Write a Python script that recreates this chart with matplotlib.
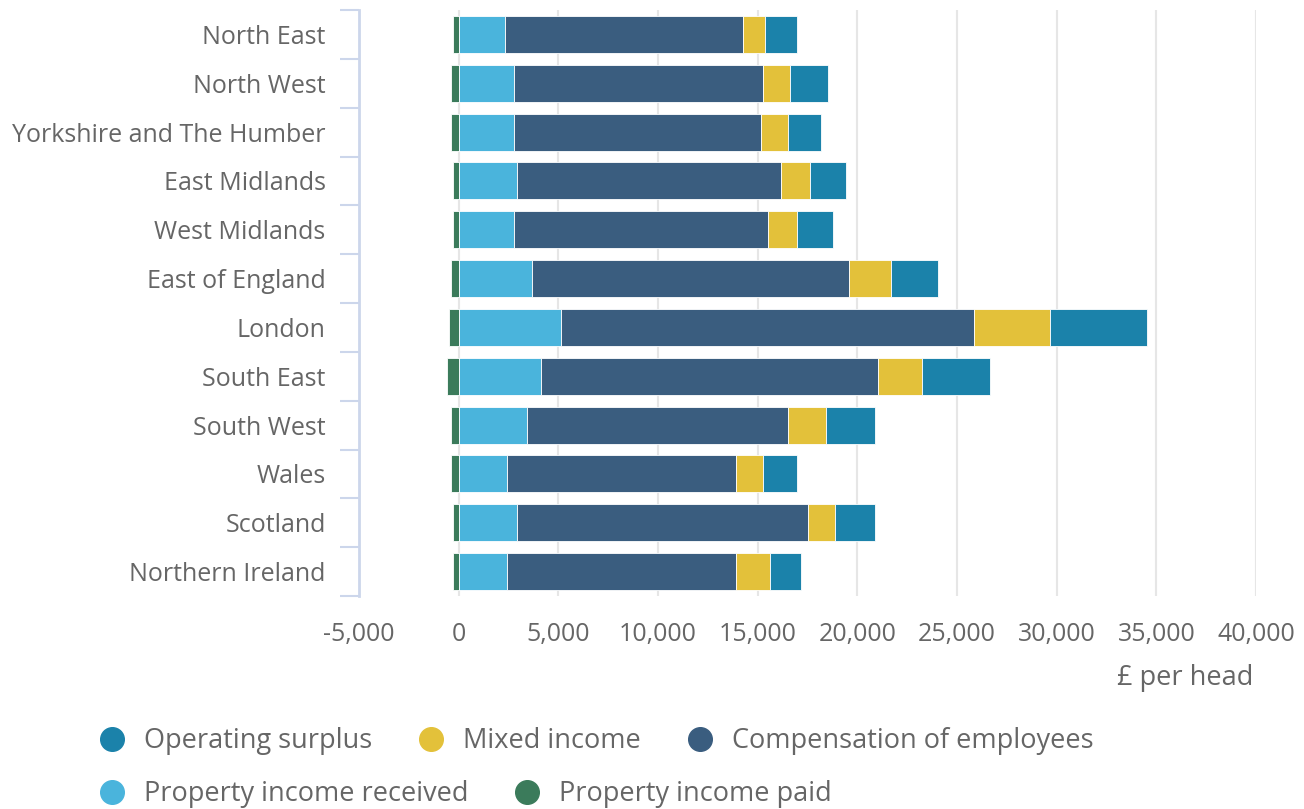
import numpy as np
import matplotlib
matplotlib.use("Agg")
import matplotlib.pyplot as plt
from matplotlib.lines import Line2D
from matplotlib.ticker import FuncFormatter, FixedLocator

plt.rcParams['font.family'] = ['Open Sans', 'DejaVu Sans']

# Data (£ per head)
regions = ["North East", "North West", "Yorkshire and The Humber", "East Midlands",
           "West Midlands", "East of England", "London", "South East", "South West",
           "Wales", "Scotland", "Northern Ireland"]
property_paid = [-260, -376, -376, -260, -260, -376, -477, -592, -376, -376, -260, -260]
property_received = [2333, 2785, 2785, 2920, 2785, 3688, 5158, 4139, 3452, 2449, 2920, 2449]
compensation = [11927, 12478, 12358, 13262, 12730, 15871, 20708, 16874, 13066, 11475, 14601, 11475]
mixed_income = [1119, 1355, 1355, 1455, 1455, 2142, 3813, 2243, 1922, 1355, 1370, 1691]
operating_surplus = [1590, 1907, 1686, 1806, 1786, 2358, 4852, 3397, 2459, 1691, 2007, 1570]

series_names = ["Operating surplus", "Mixed income", "Compensation of employees",
                "Property income received", "Property income paid"]
colors = {"Operating surplus": "#1b82aa", "Mixed income": "#e3c13a",
          "Compensation of employees": "#3a5d7f", "Property income received": "#4ab4dc",
          "Property income paid": "#3b7b5b"}

text_col = "#666666"
axis_col = "#ccd6eb"
fs = 18
fs_leg = 19.5

fig = plt.figure(figsize=(13.04, 8.09), dpi=100)
ax = fig.add_axes([359 / 1304, 1 - 596 / 809, (1256 - 359) / 1304, (596 - 10) / 809])

y = np.arange(len(regions))
h = 0.76
edge = dict(edgecolor="white", linewidth=0.6)

# negative part
ax.barh(y, property_paid, height=h, color=colors["Property income paid"], **edge)
# positive stack
left = np.zeros(len(regions))
for name, vals in [("Property income received", property_received),
                   ("Compensation of employees", compensation),
                   ("Mixed income", mixed_income),
                   ("Operating surplus", operating_surplus)]:
    ax.barh(y, vals, left=left, height=h, color=colors[name], **edge)
    left += np.array(vals)

ax.set_xlim(-5000, 40000)
ax.set_ylim(len(regions) - 0.5, -0.5)
ax.set_xticks(np.arange(-5000, 40001, 5000))
ax.xaxis.set_major_formatter(FuncFormatter(lambda v, p: f"{int(v):,}"))
ax.grid(axis="x", color="#e6e6e6", linewidth=1.5)
ax.set_axisbelow(True)

ax.set_yticks(y)
ax.set_yticklabels(regions)
ax.yaxis.set_minor_locator(FixedLocator(np.arange(-0.5, len(regions), 1.0)))
ax.tick_params(axis="y", which="major", length=0, pad=24, labelsize=fs, labelcolor=text_col)
ax.tick_params(axis="y", which="minor", length=14, width=1.5, color=axis_col, direction="out")
ax.tick_params(axis="x", length=0, pad=19, labelsize=fs, labelcolor=text_col)

for s in ["top", "right", "bottom"]:
    ax.spines[s].set_visible(False)
ax.spines["left"].set_color(axis_col)
ax.spines["left"].set_linewidth(2)

fig.text(1253 / 1304, 1 - 678 / 809, "£ per head", ha="right", va="center",
         fontsize=fs_leg, color=text_col)

# Legend, two flowing rows
def handle(name):
    return Line2D([], [], marker="o", linestyle="none", markersize=17,
                  markerfacecolor=colors[name], markeredgecolor=colors[name])

leg_kw = dict(frameon=False, fontsize=fs_leg, labelcolor=text_col, handlelength=0.89,
              handletextpad=0.74, columnspacing=1.72, borderpad=0, borderaxespad=0,
              loc="center left")
row1 = series_names[:3]
row2 = series_names[3:]
leg1 = fig.legend([handle(n) for n in row1], row1, ncol=3,
                  bbox_to_anchor=(100 / 1304, 1 - 741 / 809), **leg_kw)
leg2 = fig.legend([handle(n) for n in row2], row2, ncol=2,
                  bbox_to_anchor=(100 / 1304, 1 - 794 / 809), **leg_kw)

fig.savefig("out.png", dpi=100, facecolor="white")
